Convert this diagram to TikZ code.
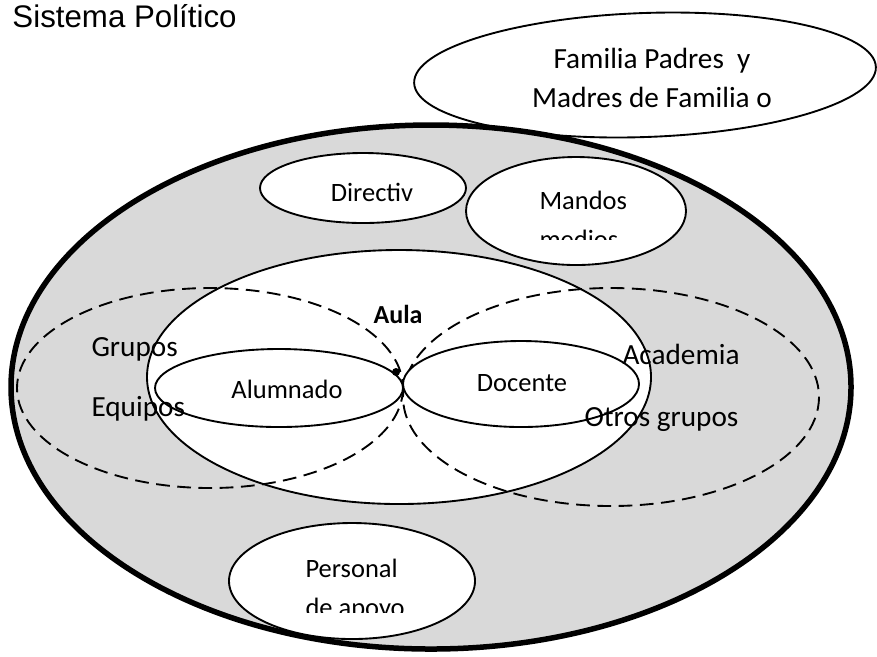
\documentclass[tikz,border=0pt]{standalone}
\usepackage{fontspec}
\setmainfont{Carlito}
\newfontfamily\arialfont{Liberation Sans}
\definecolor{fondo}{HTML}{D9D9D9}

\begin{document}
\begin{tikzpicture}[x=0.4pt, y=-0.4pt,
        linea/.style={line width=0.75pt},
        borde/.style={line width=2.2pt},
        discont/.style={line width=0.75pt, dash pattern=on 5.5pt off 3pt},
        texto/.style={inner sep=0pt, font=\fontsize{10.6}{13}\selectfont},
        grande/.style={inner sep=0pt, font=\fontsize{11.7}{14}\selectfont},
        negrita/.style={inner sep=0pt, font=\fontsize{10.4}{13}\selectfont\bfseries},
        titulo/.style={inner sep=0pt, font=\arialfont\fontsize{12.5}{15}\selectfont}]
        \useasboundingbox (0,0) rectangle (877,656);

        \filldraw[borde, fill=fondo] (431,387) ellipse [x radius=420, y radius=262];
        \draw[linea, rotate around={2:(645,75)}] (645,75) ellipse [x radius=231, y radius=62];
        \filldraw[linea, fill=white] (363,188) ellipse [x radius=103, y radius=35];
        \filldraw[linea, fill=white] (576,211) ellipse [x radius=110, y radius=54];
        \filldraw[linea, fill=white] (399,377) ellipse [x radius=252, y radius=127];
        \draw[discont] (210,388) ellipse [x radius=193, y radius=100];
        \draw[discont] (611,397) ellipse [x radius=208, y radius=109];
        \filldraw[linea, fill=white] (279,388) ellipse [x radius=124, y radius=39];
        \filldraw[linea, fill=white] (521,384) ellipse [x radius=118, y radius=43];
        \filldraw[linea, fill=white] (352,581) ellipse [x radius=123, y radius=58];
        \node[circle, fill, inner sep=0pt, minimum size=3.2pt] (punta) at (396,372) {};

        \node[titulo, anchor=base west] (sistema) at (12,27) {Sistema Político};
        \node[grande, anchor=base] (familia1) at (652,68) {Familia Padres\ \ y};
        \node[grande, anchor=base] (familia2) at (652,107) {Madres de Familia o};
        \node[texto, anchor=base] (directiv) at (372,201) {Directiv};
        \begin{scope}
            \clip (466,150) rectangle (686,239);
            \node[texto, anchor=base west] (mandos) at (539,209) {Mandos};
            \node[texto, anchor=base west] (medios) at (539,248) {medios};
        \end{scope}
        \node[negrita, anchor=base] (aula) at (398,323) {Aula};
        \node[grande, anchor=base west] (grupos) at (91,356) {Grupos};
        \node[grande, anchor=base west] (equipos) at (91,416) {Equipos};
        \node[texto, anchor=base] (alumnado) at (287,398) {Alumnado};
        \node[texto, anchor=base] (docente) at (522,391) {Docente};
        \node[grande, anchor=base west] (academia) at (622,364) {Academia};
        \node[grande, anchor=base west] (otros) at (584,426) {Otros grupos};
        \begin{scope}
            \clip (229,520) rectangle (476,612);
            \node[texto, anchor=base west] (personal) at (305,577) {Personal};
            \node[texto, anchor=base west] (apoyo) at (305,616) {de apoyo};
        \end{scope}

    \end{tikzpicture}
\end{document}
